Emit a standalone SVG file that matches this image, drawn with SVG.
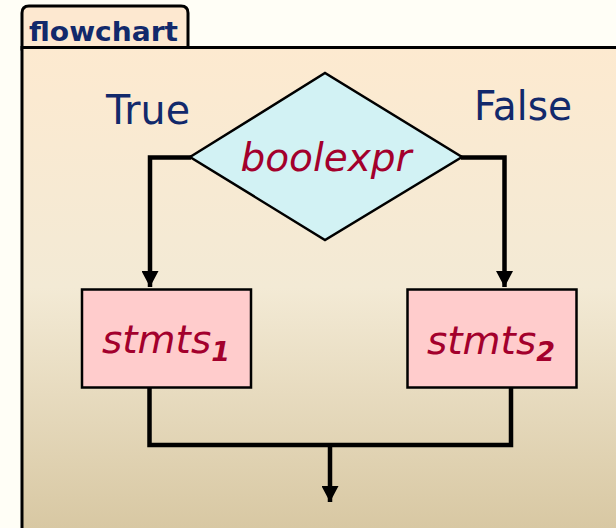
<svg xmlns="http://www.w3.org/2000/svg" width="616" height="528" viewBox="0 0 616 528">
  <defs>
    <linearGradient id="panelFill" x1="0" y1="47" x2="0" y2="528" gradientUnits="userSpaceOnUse">
      <stop offset="0" stop-color="#fdead0"/>
      <stop offset="0.5" stop-color="#f3ead5"/>
      <stop offset="1" stop-color="#d8c8a3"/>
    </linearGradient>
    <!-- arrowhead drawn along +x so orient="auto" follows the wire -->
    <marker id="arrow" viewBox="0 0 16 17" refX="16" refY="8.5" markerWidth="16" markerHeight="17" markerUnits="userSpaceOnUse" orient="auto">
      <path d="M0,0 L16,8.5 L0,17 Z" fill="#000"/>
    </marker>
    <style>
      .frame { stroke: #000; stroke-width: 3; }
      .label { font-family: "DejaVu Sans", Verdana, sans-serif; fill: #12296b; }
      .code { font-family: "DejaVu Sans", Verdana, sans-serif; font-style: italic; fill: #a3002c; }
      .sub { font-weight: bold; }
      .wire { fill: none; stroke: #000; stroke-width: 4.5; stroke-linejoin: miter; stroke-linecap: butt; }
      .shape { stroke: #000; stroke-width: 2.5; }
    </style>
  </defs>

  <!-- page background -->
  <rect x="0" y="0" width="616" height="528" fill="#fffef6"/>

  <!-- frame: tab and panel -->
  <g id="frame">
    <path class="frame" d="M22,49 V13 Q22,6 29,6 H181 Q188,6 188,13 V49 Z" fill="#fde8d0"/>
    <rect class="frame" x="22" y="47.5" width="620" height="500" fill="url(#panelFill)"/>
    <text class="label" x="29" y="40.5" font-size="27" font-weight="bold" fill="#0c2662" textLength="149" lengthAdjust="spacingAndGlyphs">flowchart</text>
  </g>

  <!-- branch labels -->
  <g id="label-true">
    <text class="label" x="106" y="124" font-size="41" textLength="84" lengthAdjust="spacingAndGlyphs">True</text>
  </g>
  <g id="label-false">
    <text class="label" x="474" y="120" font-size="40.5" textLength="98" lengthAdjust="spacingAndGlyphs">False</text>
  </g>

  <!-- connectors -->
  <g id="connectors">
    <path class="wire" d="M191,157.5 H150 V287" marker-end="url(#arrow)"/>
    <path class="wire" d="M461,157.5 H504.5 V287" marker-end="url(#arrow)"/>
    <path class="wire" d="M149.5,388 V445 H511 V388"/>
    <path class="wire" d="M330,445 V502" marker-end="url(#arrow)"/>
  </g>

  <!-- decision node -->
  <g id="decision">
    <polygon class="shape" points="190,157 325,73 462,157 325,240" fill="#d2f2f4" stroke-width="2"/>
    <text class="code" x="326" y="171" font-size="39" text-anchor="middle">boolexpr</text>
  </g>

  <!-- statement blocks -->
  <g id="stmts1">
    <rect class="shape" x="82" y="289.5" width="169" height="98" fill="#ffcccc"/>
    <text class="code" x="102" y="353" font-size="39">stmts<tspan class="sub" font-size="27" dy="8">1</tspan></text>
  </g>
  <g id="stmts2">
    <rect class="shape" x="407.5" y="289.5" width="169" height="98" fill="#ffcccc"/>
    <text class="code" x="427" y="354" font-size="39">stmts<tspan class="sub" font-size="27" dy="7">2</tspan></text>
  </g>
</svg>
